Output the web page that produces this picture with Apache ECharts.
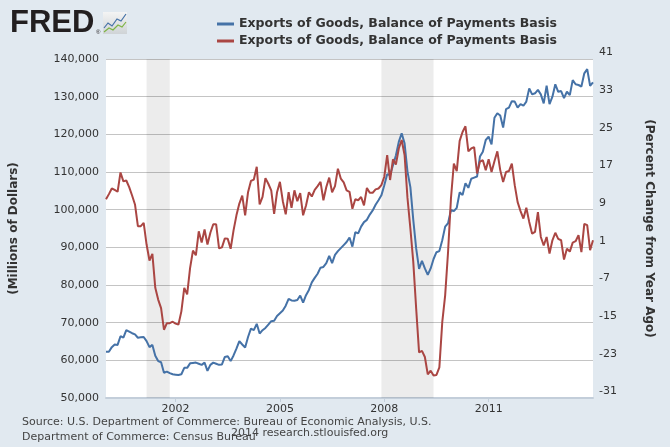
<!DOCTYPE html>
<html>
<head>
<meta charset="utf-8">
<script src="https://cdn.jsdelivr.net/npm/echarts@6/dist/echarts.min.js"></script>
<style>
html,body{margin:0;padding:0;background:#e1e9f0;}
#chart{width:670px;height:447px;}
</style>
</head>
<body>
<div id="chart"></div>
<script>
// monthly, Jan 2000 .. Jan 2014
var startYear = 2000;
var levelName = 'Exports of Goods, Balance of Payments Basis';
var pctName = 'Exports of Goods, Balance of Payments Basis (Percent Change from Year Ago)';

// millions of dollars (left axis)
var exportsLevel = [
    62300,62300,63500,64200,64100,66400,66000,68000,67600,67200,66900,66000,
    66100,66200,65100,63500,64100,61200,59800,59500,56700,57000,56600,56300,
    56200,56100,56300,58000,58000,59200,59300,59400,59100,58800,59400,57200,
    58800,59400,59100,58800,58900,60900,61100,59800,61300,63100,65100,64200,
    63400,66200,68400,68000,69700,67100,68000,68600,69500,70400,70500,71800,
    72500,73200,74500,76300,75900,75800,76000,77200,75300,77300,78700,80700,
    81900,83000,84600,84800,85800,87700,85800,88000,89000,89800,90600,91400,
    92600,90200,94000,93700,95500,96700,97300,98700,99800,101300,102500,103800,
    106500,109400,109200,111800,114400,118000,120300,117600,110100,106000,97300,89700,
    84300,86400,84400,82700,84400,86900,88700,89000,91900,95500,96400,99900,
    99600,100500,104600,103900,107000,105800,108200,108500,108800,114100,115400,118500,
    119400,117300,124400,125600,125000,121800,126700,127100,128800,128700,127100,128000,
    127600,128700,132200,130600,130900,131800,130600,128200,132900,128000,130000,133300,
    131300,131500,129600,131300,130400,134400,133300,133100,132700,136200,137300,132900,
    133800
];

// percent change from year ago (right axis)
var exportsPct = [
    11.2,12.3,13.5,13.2,12.8,16.9,15.0,15.2,13.8,12.0,10.1,5.5,
    5.5,6.2,1.6,-1.8,-0.4,-7.6,-10.1,-11.9,-16.5,-15.1,-15.1,-14.8,
    -15.2,-15.4,-12.6,-7.6,-9.0,-3.4,0.3,-0.7,4.4,2.0,4.8,1.6,
    4.1,5.9,5.9,0.8,1.0,2.9,2.8,0.7,4.6,7.8,10.3,12.0,
    7.8,12.7,15.1,15.4,18.1,10.1,11.7,15.7,14.5,13.1,8.1,12.7,
    14.9,10.8,8.0,12.7,9.4,13.1,10.8,12.5,7.8,9.9,12.7,11.8,
    13.2,14.0,14.9,11.0,13.8,15.8,12.7,14.0,17.7,15.6,14.8,13.1,
    12.8,9.2,11.2,11.0,11.7,9.9,13.6,12.6,12.6,13.3,13.5,14.2,
    16.0,20.6,15.3,19.7,18.6,22.0,23.8,20.6,11.5,5.0,-2.1,-12.0,
    -21.3,-21.0,-22.3,-26.0,-25.2,-26.2,-26.1,-24.5,-14.9,-9.2,0.0,11.4,
    18.8,17.2,23.6,25.5,26.7,21.4,22.0,22.3,16.7,19.2,19.5,17.4,
    19.7,17.0,19.3,21.4,17.4,14.9,17.0,17.2,18.8,14.2,10.6,8.7,
    7.1,9.4,6.4,3.9,4.3,8.5,3.2,1.4,3.2,-0.3,2.5,4.1,
    2.8,2.5,-1.6,0.7,0.1,2.0,2.3,3.6,0.0,6.0,5.7,0.4,
    2.5
];

var recessions = [['2001-03','2001-11'],['2007-12','2009-06']];
var yearLabels = ['2002','2005','2008','2011'];

var months = [];
for (var i = 0; i < exportsLevel.length; i++) {
    var y = startYear + Math.floor(i / 12), mo = i % 12 + 1;
    months.push(y + '-' + (mo < 10 ? '0' + mo : mo));
}

function isYearTick(idx) {
    var v = months[idx];
    return v.slice(5) === '01' && yearLabels.indexOf(v.slice(0, 4)) >= 0;
}

var font = 'DejaVu Sans';

var option = {
    backgroundColor: '#e1e9f0',
    animation: false,
    textStyle: {fontFamily: font},
    legend: {
        orient: 'vertical',
        left: 217,
        top: 17,
        padding: 0,
        itemWidth: 17,
        itemHeight: 3,
        itemGap: 3,
        icon: 'rect',
        selectedMode: false,
        data: [levelName, pctName],
        formatter: function (name) { return name.replace(/ \(.*\)$/, ''); },
        textStyle: {fontFamily: font, fontSize: 12.5, fontWeight: 'bold', color: '#333', lineHeight: 14}
    },
    grid: {left: 106, right: 77, top: 59, bottom: 49, show: true, backgroundColor: '#fff', borderWidth: 0},
    xAxis: {
        type: 'category',
        data: months,
        boundaryGap: false,
        axisLine: {onZero: false, lineStyle: {color: '#c3ceda', width: 2}},
        axisTick: {interval: isYearTick, length: 4, lineStyle: {color: '#c3ceda'}},
        axisLabel: {
            interval: isYearTick,
            formatter: function (v) { return v.slice(0, 4); },
            color: '#333', fontSize: 11, margin: 6, fontFamily: font
        },
        splitLine: {show: false}
    },
    yAxis: [{
        type: 'value',
        min: 50000, max: 140000, interval: 10000,
        name: '(Millions of Dollars)',
        nameLocation: 'middle',
        nameGap: 86,
        nameTextStyle: {fontFamily: font, fontSize: 12, fontWeight: 'bold', color: '#333'},
        axisLine: {show: false},
        axisTick: {show: false},
        axisLabel: {
            color: '#333', fontSize: 11, margin: 7, fontFamily: font,
            formatter: function (v) { return v.toString().replace(/\B(?=(\d{3})+(?!\d))/g, ','); }
        },
        splitLine: {lineStyle: {color: '#c4c4c4', width: 1}}
    }, {
        type: 'value',
        position: 'right',
        min: -31, max: 41, interval: 8,
        name: '(Percent Change from Year Ago)',
        nameLocation: 'middle',
        nameRotate: -90,
        nameGap: 50,
        nameTextStyle: {fontFamily: font, fontSize: 12, fontWeight: 'bold', color: '#333'},
        axisLine: {show: false},
        axisTick: {show: false},
        axisLabel: {color: '#333', fontSize: 11, margin: 6, verticalAlign: 'bottom', padding: [0, 0, 1, 0], fontFamily: font},
        splitLine: {show: false}
    }],
    series: [{
        name: levelName,
        type: 'line',
        yAxisIndex: 0,
        data: exportsLevel,
        showSymbol: false,
        lineStyle: {color: '#4572a7', width: 2},
        itemStyle: {color: '#4572a7'},
        markArea: {
            silent: true,
            itemStyle: {color: 'rgba(0,0,0,0.075)'},
            data: recessions.map(function (r) { return [{xAxis: r[0]}, {xAxis: r[1]}]; })
        }
    }, {
        name: pctName,
        type: 'line',
        yAxisIndex: 1,
        data: exportsPct,
        showSymbol: false,
        lineStyle: {color: '#aa4643', width: 2},
        itemStyle: {color: '#aa4643'}
    }],
    graphic: [
        {type: 'text', left: 10, top: 8, style: {text: 'FRED', font: 'bold 31px "Liberation Sans"', fill: '#231f20'}},
        {type: 'text', left: 96, top: 29, style: {text: '\u00ae', font: '6px "Liberation Sans"', fill: '#231f20'}},
        {type: 'rect', shape: {x: 103, y: 12, width: 24, height: 22},
            style: {fill: {type: 'linear', x: 0, y: 0, x2: 0, y2: 1,
                colorStops: [{offset: 0, color: '#f4f4f4'}, {offset: 1, color: '#cfd3d6'}]}}},
        {type: 'polyline', shape: {points: [[104, 28], [108, 23], [112, 26], [117, 19], [121, 21], [126, 14]]},
            style: {stroke: '#4572a7', lineWidth: 1.2, fill: null}},
        {type: 'polyline', shape: {points: [[104, 32], [109, 28], [113, 30], [118, 25], [122, 27], [126, 22]]},
            style: {stroke: '#7db443', lineWidth: 1.2, fill: null}},
        {type: 'text', left: 22, top: 417, style: {text: 'Source: U.S. Department of Commerce: Bureau of Economic Analysis, U.S.', font: '11px "DejaVu Sans"', fill: '#444'}},
        {type: 'text', left: 22, top: 432, style: {text: 'Department of Commerce: Census Bureau', font: '11px "DejaVu Sans"', fill: '#444'}},
        {type: 'text', left: 231, top: 428, style: {text: '2014 research.stlouisfed.org', font: '11px "DejaVu Sans"', fill: '#444'}}
    ]
};

var myChart = echarts.init(document.getElementById('chart'));
myChart.setOption(option);
</script>
</body>
</html>
